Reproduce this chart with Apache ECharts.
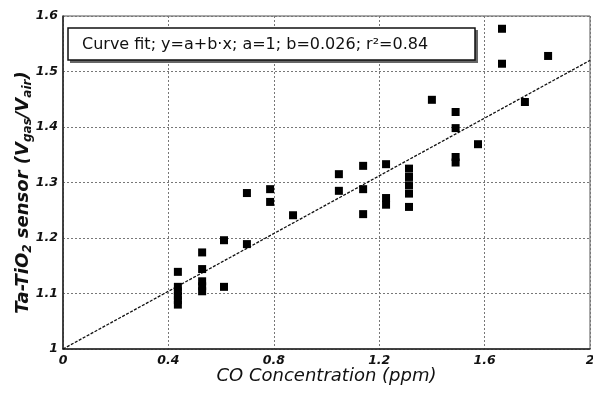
<!DOCTYPE html>
<html>
<head>
<meta charset="utf-8">
<script src="https://cdn.jsdelivr.net/npm/echarts@6/dist/echarts.min.js"></script>
<style>html,body{margin:0;padding:0;background:#fff}#c{width:593px;height:393px}</style>
</head>
<body>
<div id="c"></div>
<script>
// Measured data (CO concentration, ppm  vs  sensor response)
const coX = [
  0.436,0.436,0.436,0.436,0.436,0.436,
  0.528,0.528,0.528,0.528,0.528,
  0.611,0.611,
  0.698,0.698,
  0.786,0.786,
  0.873,
  1.047,1.047,
  1.139,1.139,1.139,
  1.226,1.226,1.226,
  1.313,1.313,1.313,1.313,1.313,
  1.400,
  1.490,1.490,1.490,1.490,
  1.575,
  1.666,1.666,
  1.753,
  1.841
];
const responseY = [
  1.139,1.112,1.104,1.096,1.088,1.080,
  1.174,1.144,1.122,1.113,1.104,
  1.196,1.112,
  1.281,1.189,
  1.288,1.265,
  1.241,
  1.315,1.285,
  1.330,1.288,1.243,
  1.333,1.272,1.260,
  1.325,1.310,1.295,1.280,1.256,
  1.449,
  1.427,1.398,1.346,1.336,
  1.369,
  1.577,1.514,
  1.445,
  1.528
];
// Curve-fit line endpoints
const fitX = [0, 2];
const fitY = [1, 1.52];
const xTicks = [0, 0.4, 0.8, 1.2, 1.6, 2];
const yTicks = [1, 1.1, 1.2, 1.3, 1.4, 1.5, 1.6];
const fitLabel = 'Curve fit; y=a+b\u00b7x; a=1; b=0.026; r\u00b2=0.84';

const FONT = '"DejaVu Sans", Verdana, sans-serif';
const chart = echarts.init(document.getElementById('c'));
const fmt = v => String(+v.toFixed(1));
chart.setOption({
  animation: false,
  grid: { left: 63, right: 3, top: 16, bottom: 44, show: true, borderColor: '#555', borderWidth: 1, backgroundColor: 'transparent', outerBoundsMode: 'none', containLabel: false },
  xAxis: {
    type: 'value', min: xTicks[0], max: xTicks[xTicks.length-1], interval: 0.4,
    axisLine: { show: true, lineStyle: { color: '#222', width: 1.5 } },
    axisTick: { show: false },
    splitLine: { show: true, lineStyle: { color: '#777', type: [2, 2], width: 1 } },
    axisLabel: { color: '#111', fontFamily: FONT, fontStyle: 'italic', fontWeight: 'bold', fontSize: 12.5, margin: 5, formatter: fmt, showMaxLabel: true, showMinLabel: true },
    name: 'CO Concentration (ppm)', nameLocation: 'middle', nameGap: 18, nameMoveOverlap: false,
    nameTextStyle: { color: '#111', fontFamily: FONT, fontStyle: 'italic', fontSize: 18, verticalAlign: 'top' }
  },
  yAxis: {
    type: 'value', min: yTicks[0], max: yTicks[yTicks.length-1], interval: 0.1,
    axisLine: { show: true, lineStyle: { color: '#222', width: 1.5 } },
    axisTick: { show: false },
    splitLine: { show: true, lineStyle: { color: '#777', type: [2, 2], width: 1 } },
    axisLabel: { color: '#111', fontFamily: FONT, fontStyle: 'italic', fontWeight: 'bold', fontSize: 12.5, margin: 5, formatter: fmt },
    name: '{m|Ta-TiO}{s|2}{m| sensor (V}{s|gas}{m|/V}{s|air}{m|)}',
    nameLocation: 'middle', nameGap: 29, nameRotate: 90, nameMoveOverlap: false,
    nameTextStyle: {
      padding: [0, 20, 0, 0],
      rich: {
        m: { color: '#111', fontFamily: FONT, fontStyle: 'italic', fontWeight: 'bold', fontSize: 18, lineHeight: 22, verticalAlign: 'middle' },
        s: { color: '#111', fontFamily: FONT, fontStyle: 'italic', fontWeight: 'bold', fontSize: 12, lineHeight: 22, verticalAlign: 'bottom' }
      }
    }
  },
  graphic: [
    { type: 'rect', shape: { x: 70, y: 30, width: 408, height: 33 }, style: { fill: '#666' }, z: 100 },
    { type: 'rect', shape: { x: 68, y: 28, width: 407, height: 32 }, style: { fill: '#fff', stroke: '#111', lineWidth: 1.5 }, z: 101 },
    { type: 'text', x: 82, y: 45, style: { text: fitLabel, fill: '#111', font: '16px "DejaVu Sans", Verdana, sans-serif', textVerticalAlign: 'middle' }, z: 102 }
  ],
  series: [
    {
      type: 'line', data: fitX.map((x, i) => [x, fitY[i]]), showSymbol: false, symbol: 'none',
      lineStyle: { color: '#111', width: 1.3, type: [3, 1.5] }, z: 3, silent: true
    },
    {
      type: 'scatter', data: coX.map((x, i) => [x, responseY[i]]), symbol: 'rect', symbolSize: 8,
      itemStyle: { color: '#000', opacity: 1 }, z: 4
    }
  ]
});
</script>
</body>
</html>
